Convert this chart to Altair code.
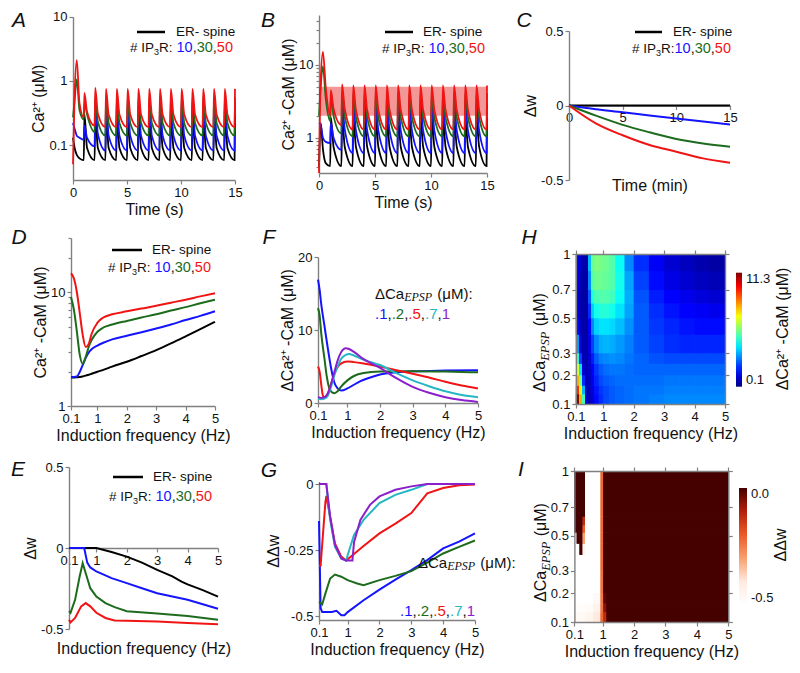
import altair as alt
import pandas as pd

SANS = "Liberation Sans"
SERIF = "Liberation Serif"
W_TOT, H_TOT = 784, 655


def px(v):
    return v - 8


def py(v):
    return v - 8


BLACK = "#000000"
BLUE = "#1414ff"
GREEN = "#1d6b1d"
RED = "#f01414"
CYAN = "#25b7c4"
PURPLE = "#8b1fcc"
INK = "#111111"
AXC = "#808080"
SER_DOM = ["black", "blue", "green", "red", "cyan", "purple"]
SER_RNG = [BLACK, BLUE, GREEN, RED, CYAN, PURPLE]

# ---------------- data: A & B (time in s) ----------------
t_ab = [0, 0.15, 0.35, 0.6,
        1, 1.06, 1.3, 2, 2.06, 2.3, 3, 3.06, 3.3, 4, 4.06, 4.3, 5, 5.06, 5.3,
        6, 6.06, 6.3, 7, 7.06, 7.3, 8, 8.06, 8.3, 9, 9.06, 9.3, 10, 10.06, 10.3,
        11, 11.06, 11.3, 12, 12.06, 12.3, 13, 13.06, 13.3, 14, 14.06, 14.3,
        14.96, 15]

a_black = [0.13, 0.09, 0.07, 0.062,
           0.058, 0.30, 0.09, 0.058, 0.30, 0.09, 0.058, 0.30, 0.09, 0.058, 0.30, 0.09,
           0.058, 0.30, 0.09, 0.058, 0.30, 0.09, 0.058, 0.30, 0.09, 0.058, 0.30, 0.09,
           0.058, 0.30, 0.09, 0.058, 0.30, 0.09, 0.058, 0.30, 0.09, 0.058, 0.30, 0.09,
           0.058, 0.30, 0.09, 0.058, 0.30, 0.09,
           0.058, 0.30]
a_blue = [0.22, 0.18, 0.14, 0.13,
          0.12, 0.20, 0.13, 0.095, 0.46, 0.15,
          0.082, 0.47, 0.14, 0.082, 0.47, 0.14, 0.082, 0.47, 0.14, 0.082, 0.47, 0.14,
          0.082, 0.47, 0.14, 0.082, 0.47, 0.14, 0.082, 0.47, 0.14, 0.082, 0.47, 0.14,
          0.082, 0.47, 0.14, 0.082, 0.47, 0.14, 0.082, 0.47, 0.14, 0.082, 0.47, 0.14,
          0.082, 0.47]
a_green = [0.27, 0.50, 1.05, 0.35,
           0.25, 0.45, 0.30, 0.16, 0.56, 0.23,
           0.14, 0.55, 0.22, 0.14, 0.55, 0.22, 0.14, 0.55, 0.22, 0.14, 0.55, 0.22,
           0.14, 0.55, 0.22, 0.14, 0.55, 0.22, 0.14, 0.55, 0.22, 0.14, 0.55, 0.22,
           0.14, 0.55, 0.22, 0.14, 0.55, 0.22, 0.14, 0.55, 0.22, 0.14, 0.55, 0.22,
           0.14, 0.55]
a_red = [0.05, 0.60, 2.10, 0.45,
         0.27, 0.65, 0.33, 0.20, 0.78, 0.31,
         0.19, 0.75, 0.30, 0.19, 0.75, 0.30, 0.19, 0.75, 0.30, 0.19, 0.75, 0.30,
         0.19, 0.75, 0.30, 0.19, 0.75, 0.30, 0.19, 0.75, 0.30, 0.19, 0.75, 0.30,
         0.19, 0.75, 0.30, 0.19, 0.75, 0.30, 0.19, 0.75, 0.30, 0.19, 0.75, 0.30,
         0.19, 0.75]

b_black = [0.40, 1.6, 0.7, 0.45,
           0.41, 1.9, 0.75, 0.41, 1.9, 0.75, 0.41, 1.9, 0.75, 0.41, 1.9, 0.75,
           0.41, 1.9, 0.75, 0.41, 1.9, 0.75, 0.41, 1.9, 0.75, 0.41, 1.9, 0.75,
           0.41, 1.9, 0.75, 0.41, 1.9, 0.75, 0.41, 1.9, 0.75, 0.41, 1.9, 0.75,
           0.41, 1.9, 0.75, 0.41, 1.9, 0.75,
           0.41, 1.9]
b_blue = [1.6, 1.5, 1.0, 0.88,
          0.85, 1.6, 1.0, 0.68, 3.0, 1.3,
          0.62, 3.0, 1.25, 0.62, 3.0, 1.25, 0.62, 3.0, 1.25, 0.62, 3.0, 1.25,
          0.62, 3.0, 1.25, 0.62, 3.0, 1.25, 0.62, 3.0, 1.25, 0.62, 3.0, 1.25,
          0.62, 3.0, 1.25, 0.62, 3.0, 1.25, 0.62, 3.0, 1.25, 0.62, 3.0, 1.25,
          0.62, 3.0]
b_green = [2.0, 5.0, 9.5, 3.5,
           1.7, 3.8, 2.0, 1.15, 4.2, 1.95,
           1.05, 4.1, 1.9, 1.05, 4.1, 1.9, 1.05, 4.1, 1.9, 1.05, 4.1, 1.9,
           1.05, 4.1, 1.9, 1.05, 4.1, 1.9, 1.05, 4.1, 1.9, 1.05, 4.1, 1.9,
           1.05, 4.1, 1.9, 1.05, 4.1, 1.9, 1.05, 4.1, 1.9, 1.05, 4.1, 1.9,
           1.05, 4.1]
b_red = [0.33, 6.0, 15.0, 5.0,
         2.0, 4.5, 2.5, 1.5, 5.4, 2.5,
         1.3, 5.2, 2.4, 1.3, 5.2, 2.4, 1.3, 5.2, 2.4, 1.3, 5.2, 2.4,
         1.3, 5.2, 2.4, 1.3, 5.2, 2.4, 1.3, 5.2, 2.4, 1.3, 5.2, 2.4,
         1.3, 5.2, 2.4, 1.3, 5.2, 2.4, 1.3, 5.2, 2.4, 1.3, 5.2, 2.4,
         1.3, 5.2]
band_t = [0, 15]
band_lo, band_hi = 2.0, 5.0

# ---------------- C (time in min) ----------------
c_t = [0, 2.5, 5, 7.5, 10, 12.5, 15]
c_black = [0, 0, 0, 0, 0, 0, 0]
c_blue = [0, -0.025, -0.045, -0.067, -0.088, -0.108, -0.127]
c_green = [0, -0.068, -0.13, -0.18, -0.225, -0.255, -0.277]
c_red = [0, -0.12, -0.20, -0.265, -0.31, -0.355, -0.384]

# ---------------- D ----------------
d_f = [0.1, 0.2, 0.3, 0.4, 0.5, 0.6, 0.7, 0.8, 1.0, 1.2, 1.5, 2.0, 2.5, 3.0, 3.5, 4.0, 4.5, 5.0]
d_black = [1.78, 1.78, 1.79, 1.8, 1.82, 1.85, 1.88, 1.92, 2.0, 2.08, 2.22, 2.45, 2.75, 3.1, 3.55, 4.1, 4.75, 5.5]
d_blue = [1.8, 1.8, 1.82, 2.0, 2.3, 2.65, 2.95, 3.15, 3.4, 3.6, 3.85, 4.15, 4.45, 4.8, 5.2, 5.7, 6.2, 6.8]
d_green = [9.1, 7.0, 4.5, 2.8, 2.35, 2.7, 3.3, 3.8, 4.5, 4.9, 5.2, 5.6, 6.0, 6.4, 6.9, 7.4, 8.0, 8.6]
d_red = [14.7, 13.2, 10.0, 6.5, 4.2, 3.3, 3.5, 4.3, 5.4, 6.0, 6.4, 6.8, 7.2, 7.6, 8.1, 8.6, 9.2, 9.8]

# ---------------- E ----------------
e_black_f = [0.1, 1.0, 1.5, 2.0, 2.5, 3.0, 3.5, 3.8, 4.0, 4.5, 5.0]
e_black = [0, 0, -0.025, -0.053, -0.09, -0.135, -0.175, -0.207, -0.225, -0.26, -0.3]
e_blue_f = [0.1, 0.6, 0.7, 0.8, 1.0, 1.5, 2.0, 2.5, 3.0, 3.5, 4.0, 4.5, 5.0]
e_blue = [0, 0, -0.09, -0.12, -0.145, -0.186, -0.217, -0.248, -0.279, -0.3, -0.32, -0.347, -0.375]
e_green_f = [0.1, 0.15, 0.3, 0.45, 0.55, 0.65, 0.8, 1.0, 1.3, 1.6, 2.0, 3.0, 4.0, 5.0]
e_green = [-0.39, -0.4, -0.32, -0.176, -0.094, -0.156, -0.248, -0.3, -0.34, -0.365, -0.39, -0.405, -0.42, -0.443]
e_red_f = [0.1, 0.15, 0.3, 0.5, 0.65, 0.8, 1.0, 1.3, 1.6, 2.0, 3.0, 4.0, 5.0]
e_red = [-0.443, -0.459, -0.432, -0.36, -0.34, -0.36, -0.4, -0.432, -0.447, -0.449, -0.453, -0.463, -0.471]

# ---------------- F ----------------
f_blue_f = [0.1, 0.15, 0.2, 0.3, 0.4, 0.5, 0.6, 0.7, 0.82, 1.0, 1.2, 1.4, 1.7, 2.0, 2.5, 3.0, 4.0, 5.0]
f_blue = [16.9, 15.5, 13.5, 10.5, 7.5, 4.8, 2.8, 2.0, 1.7, 2.0, 2.5, 3.0, 3.5, 3.9, 4.2, 4.35, 4.45, 4.5]
f_green_f = [0.1, 0.15, 0.2, 0.3, 0.37, 0.45, 0.55, 0.6, 0.7, 0.8, 1.0, 1.2, 1.5, 2.0, 3.0, 4.0, 5.0]
f_green = [13.0, 12.0, 9.5, 6.0, 3.6, 2.0, 1.4, 1.35, 1.6, 2.2, 3.1, 3.7, 4.1, 4.3, 4.35, 4.3, 4.2]
f_red_f = [0.1, 0.15, 0.2, 0.25, 0.3, 0.4, 0.5, 0.6, 0.7, 0.8, 1.0, 1.2, 1.5, 2.0, 2.5, 3.0, 3.5, 4.0, 4.5, 5.0]
f_red = [5.0, 4.3, 2.5, 1.0, 0.7, 1.3, 2.6, 4.0, 4.9, 5.4, 5.7, 5.6, 5.4, 5.0, 4.5, 4.0, 3.5, 2.9, 2.4, 2.0]
f_cyan_f = [0.1, 0.2, 0.3, 0.4, 0.5, 0.6, 0.7, 0.8, 0.95, 1.05, 1.2, 1.5, 2.0, 2.5, 3.0, 3.5, 4.0, 4.5, 5.0]
f_cyan = [0.6, 0.5, 0.6, 1.0, 2.2, 3.8, 5.0, 6.0, 6.6, 6.7, 6.5, 5.9, 5.2, 4.1, 3.1, 2.3, 1.6, 1.1, 0.8]
f_purple_f = [0.1, 0.2, 0.3, 0.4, 0.5, 0.6, 0.7, 0.8, 0.95, 1.05, 1.2, 1.5, 2.0, 2.5, 3.0, 3.5, 4.0, 4.5, 5.0]
f_purple = [0.8, 0.7, 0.8, 1.3, 2.6, 4.2, 5.8, 6.9, 7.5, 7.4, 7.0, 6.0, 4.8, 3.4, 2.2, 1.4, 0.8, 0.4, 0.15]

# ---------------- G ----------------
g_blue_f = [0.1, 0.15, 0.2, 0.5, 0.65, 0.8, 0.9, 1.0, 1.5, 2.0, 2.5, 3.0, 3.5, 4.0, 4.5, 5.0]
g_blue = [-0.14, -0.47, -0.485, -0.485, -0.48, -0.497, -0.497, -0.485, -0.44, -0.4, -0.362, -0.326, -0.288, -0.244, -0.218, -0.187]
g_green_f = [0.1, 0.2, 0.3, 0.45, 0.6, 0.8, 1.0, 1.3, 1.5, 2.0, 2.5, 3.0, 3.5, 4.0, 4.5, 5.0]
g_green = [-0.447, -0.456, -0.415, -0.358, -0.343, -0.351, -0.364, -0.377, -0.383, -0.364, -0.348, -0.33, -0.298, -0.263, -0.238, -0.214]
g_red_f = [0.1, 0.15, 0.3, 0.33, 0.45, 0.6, 0.8, 0.95, 1.2, 1.5, 2.0, 2.5, 3.0, 3.5, 4.0, 4.5, 5.0]
g_red = [-0.31, -0.31, -0.07, -0.045, -0.125, -0.225, -0.275, -0.29, -0.265, -0.235, -0.187, -0.15, -0.11, -0.035, -0.015, -0.005, -0.002]
g_cyan_f = [0.1, 0.33, 0.45, 0.6, 0.8, 0.95, 1.05, 1.2, 1.5, 2.0, 2.5, 3.0, 3.5, 5.0]
g_cyan = [0, 0, -0.136, -0.237, -0.282, -0.29, -0.25, -0.193, -0.136, -0.072, -0.041, -0.022, 0, 0]
g_purple_f = [0.1, 0.33, 0.45, 0.6, 0.8, 0.95, 1.15, 1.2, 1.4, 1.7, 2.0, 2.5, 3.0, 3.5, 5.0]
g_purple = [0, 0, -0.123, -0.23, -0.282, -0.29, -0.29, -0.22, -0.136, -0.079, -0.047, -0.022, -0.009, 0, 0]

# ---------------- H heatmap (dCa2+-CaM) ----------------
h_f_edges = [0.1, 0.2, 0.3, 0.4, 0.5, 0.6, 0.7, 0.85, 1.0, 1.2, 1.4, 1.7, 2.0, 2.5, 3.0, 3.5, 4.0, 4.5, 5.0]
h_ca_edges = [0.1, 0.13, 0.16, 0.2, 0.25, 0.3, 0.4, 0.5, 0.6, 0.7, 0.85, 1.0]
h_vals = [
    [11.3, 8.0, 5.0, 1.0, 0.7, 1.0, 1.6, 2.0, 2.3, 2.5, 2.6, 2.7, 2.8, 2.9, 3.0, 3.0, 3.0, 3.0],
    [9.5, 7.2, 3.5, 0.8, 0.7, 1.1, 1.7, 2.1, 2.3, 2.5, 2.6, 2.7, 2.8, 2.8, 2.9, 2.9, 2.9, 2.9],
    [8.0, 5.5, 2.0, 0.7, 0.8, 1.3, 1.9, 2.3, 2.5, 2.6, 2.7, 2.7, 2.7, 2.7, 2.8, 2.8, 2.8, 2.8],
    [6.8, 4.0, 1.0, 0.6, 0.9, 1.5, 2.1, 2.5, 2.7, 2.8, 2.8, 2.7, 2.6, 2.6, 2.6, 2.6, 2.6, 2.6],
    [5.0, 2.2, 0.7, 0.6, 1.0, 1.8, 2.5, 2.9, 3.0, 3.1, 3.0, 2.8, 2.6, 2.4, 2.3, 2.3, 2.3, 2.3],
    [3.3, 1.1, 0.6, 0.5, 1.2, 2.2, 3.0, 3.4, 3.5, 3.4, 3.2, 2.9, 2.5, 2.2, 2.0, 1.9, 1.9, 1.9],
    [1.6, 0.8, 0.5, 0.5, 1.5, 3.0, 3.8, 4.0, 4.0, 3.9, 3.6, 3.1, 2.5, 2.1, 1.9, 1.7, 1.6, 1.6],
    [1.2, 0.6, 0.5, 0.5, 2.0, 3.8, 4.5, 4.7, 4.7, 4.5, 4.0, 3.3, 2.5, 2.0, 1.7, 1.5, 1.4, 1.3],
    [1.1, 0.6, 0.5, 0.5, 2.5, 4.6, 5.1, 5.2, 5.2, 5.0, 4.4, 3.4, 2.4, 1.8, 1.5, 1.3, 1.1, 1.0],
    [1.2, 0.8, 0.5, 0.5, 3.0, 5.2, 5.5, 5.5, 5.4, 5.2, 4.5, 3.3, 2.2, 1.6, 1.2, 1.0, 0.8, 0.7],
    [1.3, 1.0, 0.6, 0.5, 3.5, 5.4, 5.7, 5.6, 5.5, 5.2, 4.4, 3.0, 2.0, 1.4, 1.0, 0.8, 0.6, 0.5],
]

# ---------------- I heatmap (ddw) ----------------
i_f_edges = [0.1, 0.17, 0.26, 0.36, 0.44, 0.7, 0.93, 1.02, 1.12, 5.0]
i_ca_edges = [0.1, 0.13, 0.16, 0.2, 0.3, 0.385, 0.45, 0.52, 0.57, 0.63, 1.0]
i_vals = [
    [-0.47, -0.47, -0.47, -0.47, -0.45, -0.40, -0.22, -0.12, 0.0],
    [-0.49, -0.49, -0.49, -0.49, -0.48, -0.44, -0.24, -0.06, 0.0],
    [-0.50, -0.50, -0.50, -0.50, -0.50, -0.47, -0.24, -0.02, 0.0],
    [-0.50, -0.50, -0.50, -0.50, -0.50, -0.50, -0.23, 0.0, 0.0],
    [-0.50, -0.50, -0.50, -0.50, -0.50, -0.50, -0.22, 0.0, 0.0],
    [-0.50, -0.50, 0.0, -0.45, -0.50, -0.50, -0.22, 0.0, 0.0],
    [-0.50, 0.0, 0.0, -0.30, -0.50, -0.50, -0.22, 0.0, 0.0],
    [0.0, 0.0, 0.0, -0.20, -0.50, -0.50, -0.22, 0.0, 0.0],
    [0.0, 0.0, 0.0, -0.12, -0.50, -0.50, -0.22, 0.0, 0.0],
    [0.0, 0.0, 0.0, 0.0, -0.50, -0.50, -0.22, 0.0, 0.0],
]

FREQ_TICKS = [0.1, 1, 2, 3, 4, 5]
CA_TICKS = [0.1, 0.2, 0.3, 0.5, 0.7, 1]

# ---------------- helpers ----------------
CW = {'0': 556, '1': 556, '2': 556, '3': 556, '4': 556, '5': 556, '6': 556, '7': 556, '8': 556,
      '9': 556, '.': 278, ',': 278, '#': 556, ' ': 278, 'I': 278, 'P': 667, 'R': 722, ':': 278,
      'E': 667, '-': 333, 's': 500, 'p': 556, 'i': 222, 'n': 556, 'e': 556, 'Δ': 668, 'C': 722,
      'a': 556, 'μ': 577, 'M': 833, '(': 333, ')': 333, 'w': 722, 'S': 667}
SWI = {'E': 611, 'P': 611, 'S': 500}
ONE = pd.DataFrame({"k": [0]})


def text_w(s, size, serif=False):
    tb = SWI if serif else CW
    return sum(tb.get(c, 556) for c in s) * size / 1000.0


def rich(x0, y0, segs, angle=0):
    out = []
    pos = 0.0
    for s, color, size, serif, shift in segs:
        lead = len(s) - len(s.lstrip(" "))
        pos += lead * 278 * size / 1000.0
        body = s.strip(" ")
        if angle == 0:
            x, y = x0 + pos, y0 + shift
        else:
            x, y = x0 + shift, y0 - pos
        out.append(alt.Chart(ONE).mark_text(
            text=body, font=SERIF if serif else SANS, fontStyle="italic" if serif else "normal",
            fontSize=size, color=color, align="left", baseline="middle", angle=angle
        ).encode(x=alt.value(px(x)), y=alt.value(py(y))))
        pos += text_w(s.lstrip(" "), size, serif) + (1.0 if serif else 0.0)
    return out


def label(txt, x, y, size=16, angle=0, italic=False, align="center"):
    return alt.Chart(ONE).mark_text(
        text=txt, font=SANS, fontStyle="italic" if italic else "normal", fontSize=size,
        color=INK, align=align, baseline="middle", angle=angle
    ).encode(x=alt.value(px(x)), y=alt.value(py(y)))


def sc(dom, r0, r1, typ="linear"):
    return alt.Scale(type=typ, domain=dom, range=[r0, r1], nice=False, zero=False)


def axis(orient, offset, values, title=None, **kw):
    d = dict(orient=orient, offset=offset, values=values, tickSize=4, grid=False,
             domainColor=AXC, tickColor=AXC, domainWidth=1.4, tickWidth=1.2,
             labelFont=SANS, labelFontSize=13, labelColor=INK, labelPadding=2,
             labelFlush=False, labelOverlap=False, labelExpr="toString(datum.value)",
             titleFont=SANS, titleFontSize=16, titleFontWeight="normal", titleColor=INK,
             titlePadding=2, title=title)
    d.update(kw)
    return alt.Axis(**d)


def xax(ypos, values, title=None, **kw):
    return axis("bottom", -(H_TOT - py(ypos)), values, title, **kw)


def yax(xpos, values, title=None, **kw):
    return axis("left", -px(xpos), values, title, **kw)


def series_df(items):
    rows = []
    for name, xs, ys in items:
        for a, b in zip(xs, ys):
            rows.append({"x": a, "y": b, "s": name})
    return pd.DataFrame(rows)


def line_layer(df, xs, ys, xa, ya, interp="monotone", sw=2.0):
    return alt.Chart(df).mark_line(interpolate=interp, strokeWidth=sw).encode(
        x=alt.X("x:Q", scale=xs, axis=xa),
        y=alt.Y("y:Q", scale=ys, axis=ya),
        color=alt.Color("s:N", scale=alt.Scale(domain=SER_DOM, range=SER_RNG), legend=None),
    )


def minor_layer(df, xs, ys, xpos, values):
    return alt.Chart(df).mark_point(opacity=0).encode(
        x=alt.X("x:Q", scale=xs, axis=None),
        y=alt.Y("y:Q", scale=ys, axis=yax(xpos, values, None, labels=False, domain=False, tickSize=3)),
    )


def heat_df(xe, ye, mat):
    rows = []
    for i, row in enumerate(mat):
        for j, v in enumerate(row):
            rows.append({"x0": xe[j], "x1": xe[j + 1], "y0": ye[i], "y1": ye[i + 1], "v": v})
    return pd.DataFrame(rows)


def heat_layer(df, xs, ys, dom, rng, xa=None, ya=None, legend=None):
    return alt.Chart(df).mark_rect().encode(
        x=alt.X("x0:Q", scale=xs, axis=xa), x2="x1:Q",
        y=alt.Y("y0:Q", scale=ys, axis=ya), y2="y1:Q",
        color=alt.Color("v:Q", scale=alt.Scale(domain=dom, range=rng, clamp=True, interpolate="rgb"),
                        legend=legend),
    )


def ip3r_legend(lx0, lx1, y1, tx, x2, y2, space=True):
    out = [alt.Chart(ONE).mark_rule(color=BLACK, strokeWidth=2.5).encode(
        x=alt.value(px(lx0)), x2=alt.value(px(lx1)), y=alt.value(py(y1)))]
    out += rich(tx, y1, [("ER- spine", INK, 13.5, False, 0)])
    out += rich(x2, y2, [("# IP", INK, 13.5, False, 0), ("3", INK, 9, False, 4),
                         ("R:", INK, 13.5, False, 0),
                         ((" " if space else "") + "10", BLUE, 14.5, False, 0), (",", INK, 14.5, False, 0),
                         ("30", GREEN, 14.5, False, 0), (",", INK, 14.5, False, 0),
                         ("50", RED, 14.5, False, 0)])
    return out


def epsp_legend(x1, y1, x2, y2):
    out = rich(x1, y1, [("ΔCa", INK, 15, False, 0), ("EPSP", INK, 12, True, 3),
                        (" (μM):", INK, 15, False, 0)])
    out += rich(x2, y2, [(".1", BLUE, 15, False, 0), (",", INK, 15, False, 0),
                         (".2", GREEN, 15, False, 0), (",", INK, 15, False, 0),
                         (".5", RED, 15, False, 0), (",", INK, 15, False, 0),
                         (".7", CYAN, 15, False, 0), (",", INK, 15, False, 0),
                         ("1", PURPLE, 15, False, 0)])
    return out


L = []

# ---------------- Panel A ----------------
dfA = series_df([("black", t_ab, a_black), ("blue", t_ab, a_blue),
                 ("green", t_ab, a_green), ("red", t_ab, a_red)])
xsA = sc([0, 15], px(73), px(235))
ysA = sc([0.0285, 10], py(180), py(16.7), "log")
L.append(line_layer(dfA, xsA, ysA, xax(180, [0, 5, 10, 15], "Time (s)"),
                    yax(73, [0.1, 1, 10], "Ca²⁺ (μM)"), sw=1.8))

# ---------------- Panel B ----------------
dfB = series_df([("black", t_ab, b_black), ("blue", t_ab, b_blue),
                 ("green", t_ab, b_green), ("red", t_ab, b_red)])
xsB = sc([0, 15], px(319), px(487))
ysB = sc([0.33, 48], py(173), py(15), "log")
dfBand = pd.DataFrame({"x0": [band_t[0]], "x1": [band_t[1]], "y0": [band_lo], "y1": [band_hi]})
L.append(alt.Chart(dfBand).mark_rect(color="#e83030", opacity=0.5).encode(
    x=alt.X("x0:Q", scale=xsB, axis=None), x2="x1:Q",
    y=alt.Y("y0:Q", scale=ysB, axis=None), y2="y1:Q"))
L.append(line_layer(dfB, xsB, ysB, xax(173, [0, 5, 10, 15], "Time (s)"),
                    yax(319, [1, 10], "Ca²⁺ -CaM (μM)"), sw=1.8))
L.append(minor_layer(dfB, xsB, ysB, 319, [0.4, 0.5, 0.6, 0.7, 0.8, 0.9, 2, 3, 4, 5, 6, 7, 8, 9, 20, 30, 40]))

# ---------------- Panel C ----------------
dfC = series_df([("black", c_t, c_black), ("blue", c_t, c_blue),
                 ("green", c_t, c_green), ("red", c_t, c_red)])
xsC = sc([0, 15], px(569), px(730))
ysC = sc([-0.5, 0.5], py(180), py(31))
L.append(line_layer(dfC, xsC, ysC, xax(105.5, [0, 5, 10, 15], "Time (min)", titleY=72),
                    yax(569, [-0.5, 0, 0.5], "Δw")))

# ---------------- Panel D ----------------
dfD = series_df([("black", d_f, d_black), ("blue", d_f, d_blue),
                 ("green", d_f, d_green), ("red", d_f, d_red)])
xsD = sc([0.1, 5], px(71), px(215))
ysD = sc([1, 30], py(406), py(238), "log")
L.append(line_layer(dfD, xsD, ysD, xax(406, FREQ_TICKS, "Induction frequency (Hz)"),
                    yax(71, [1, 10], "Ca²⁺ -CaM (μM)")))
L.append(minor_layer(dfD, xsD, ysD, 71, [2, 3, 4, 5, 6, 7, 8, 9, 20, 30]))

# ---------------- Panel E ----------------
dfE = series_df([("black", e_black_f, e_black), ("blue", e_blue_f, e_blue),
                 ("green", e_green_f, e_green), ("red", e_red_f, e_red)])
xsE = sc([0.1, 5], px(69), px(218))
ysE = sc([-0.5, 0.5], py(629), py(467))
L.append(line_layer(dfE, xsE, ysE, xax(548, FREQ_TICKS, "Induction frequency (Hz)", titleY=92),
                    yax(69, [-0.5, 0, 0.5], "Δw"), interp="linear"))

# ---------------- Panel F ----------------
dfF = series_df([("blue", f_blue_f, f_blue), ("green", f_green_f, f_green), ("red", f_red_f, f_red),
                 ("cyan", f_cyan_f, f_cyan), ("purple", f_purple_f, f_purple)])
xsF = sc([0.1, 5], px(318), px(478))
ysF = sc([0, 20], py(403), py(257))
L.append(line_layer(dfF, xsF, ysF, xax(403, FREQ_TICKS, "Induction frequency (Hz)"),
                    yax(318, [0, 10, 20], "ΔCa²⁺ -CaM (μM)")))

# ---------------- Panel G ----------------
dfG = series_df([("blue", g_blue_f, g_blue), ("green", g_green_f, g_green), ("red", g_red_f, g_red),
                 ("cyan", g_cyan_f, g_cyan), ("purple", g_purple_f, g_purple)])
xsG = sc([0.1, 5], px(319), px(475))
ysG = sc([-0.515, 0.0095], py(620), py(481.5))
L.append(line_layer(dfG, xsG, ysG, xax(620, FREQ_TICKS, "Induction frequency (Hz)"),
                    yax(319, [-0.5, -0.25, 0], "ΔΔw"), interp="linear"))

# ---------------- Panel H ----------------
dfH = heat_df(h_f_edges, h_ca_edges, h_vals)
xsH = sc([0.1, 5], px(575.9), px(725))
ysH = sc([0.1, 1], py(404), py(254), "sqrt")
JET_DOM = [0.1, 1.5, 2.9, 4.3, 5.7, 7.1, 8.5, 9.9, 11.3]
JET_RNG = ["#00007f", "#0000ff", "#007fff", "#00ffff", "#7fff7f", "#ffff00", "#ff7f00", "#ff0000", "#7f0000"]
legH = alt.Legend(type="gradient", orient="none", legendX=px(736), legendY=py(272.7), direction="vertical",
                  gradientLength=114, gradientThickness=6, values=[0.1, 11.3], format=".1f",
                  labelFont=SANS, labelFontSize=13, labelColor=INK, labelOffset=4, title=None,
                  gradientStrokeWidth=0)
L.append(heat_layer(dfH, xsH, ysH, JET_DOM, JET_RNG,
                    xa=xax(404, FREQ_TICKS, "Induction frequency (Hz)", zindex=1),
                    ya=yax(575.9, CA_TICKS, None, zindex=1), legend=legH))
# extra identical passes hide anti-aliasing seams between cells
L.append(heat_layer(dfH, xsH, ysH, JET_DOM, JET_RNG))
L.append(heat_layer(dfH, xsH, ysH, JET_DOM, JET_RNG))
L.append(alt.Chart(dfH).mark_point(opacity=0).encode(
    x=alt.X("x0:Q", scale=xsH, axis=axis("top", -py(254), FREQ_TICKS, None, labels=False, zindex=1)),
    y=alt.Y("y0:Q", scale=ysH, axis=axis("right", -(W_TOT - px(725)), CA_TICKS, None, labels=False, zindex=1)),
))

# ---------------- Panel I ----------------
dfI = heat_df(i_f_edges, i_ca_edges, i_vals)
xsI = sc([0.1, 5], px(574.4), px(728.3))
ysI = sc([0.1, 1], py(622), py(471), "sqrt")
RED_DOM = [-0.5, -0.4, -0.3, -0.2, -0.1, 0.0]
RED_RNG = ["#ffffff", "#feeadf", "#f8a070", "#ec5a28", "#b3200a", "#450000"]
legI = alt.Legend(type="gradient", orient="none", legendX=px(739), legendY=py(488), direction="vertical",
                  gradientLength=117, gradientThickness=8, values=[-0.5, 0.0], format=".1f",
                  labelExpr="replace(datum.label, '\u2212', '-')",
                  labelFont=SANS, labelFontSize=13, labelColor=INK, labelOffset=4, title=None,
                  gradientStrokeWidth=0)
L.append(heat_layer(dfI, xsI, ysI, RED_DOM, RED_RNG,
                    xa=xax(622, FREQ_TICKS, "Induction frequency (Hz)", zindex=1),
                    ya=yax(574.4, CA_TICKS, None, zindex=1), legend=legI))
L.append(heat_layer(dfI, xsI, ysI, RED_DOM, RED_RNG))
L.append(heat_layer(dfI, xsI, ysI, RED_DOM, RED_RNG))
L.append(alt.Chart(dfI).mark_point(opacity=0).encode(
    x=alt.X("x0:Q", scale=xsI, axis=axis("top", -py(471), FREQ_TICKS, None, labels=False, zindex=1)),
    y=alt.Y("y0:Q", scale=ysI, axis=axis("right", -(W_TOT - px(728.3)), CA_TICKS, None, labels=False, zindex=1)),
))

# ---------------- annotations ----------------
L += ip3r_legend(137, 165, 32, 176, 130, 48)
L += ip3r_legend(385, 413, 32, 423, 382, 49)
L += ip3r_legend(635, 662, 32, 673, 632, 49, space=False)
L += ip3r_legend(112, 142, 250, 152, 108, 268)
L += ip3r_legend(113, 143, 477, 153, 109, 497)
L += epsp_legend(375, 294, 375, 314)
L += epsp_legend(418, 563, 400, 611)

# heatmap y titles (rotated rich text)
L += rich(540, 392, [("ΔCa", INK, 16, False, 0), ("EPSP", INK, 12.5, True, 4.5),
                     (" (μM)", INK, 16, False, 0)], angle=270)
L += rich(541, 602, [("ΔCa", INK, 16, False, 0), ("EPSP", INK, 12.5, True, 4.5),
                     (" (μM)", INK, 16, False, 0)], angle=270)
L.append(label("ΔCa²⁺ -CaM (μM)", 783, 329, size=16, angle=270))
L.append(label("ΔΔw", 781, 545, size=16, angle=270))

# panel letters
for ch, lx, ly in [("A", 19, 21), ("B", 268, 21), ("C", 524, 21), ("D", 19, 238), ("F", 269, 238),
                   ("H", 529, 238), ("E", 18, 470), ("G", 269, 471), ("I", 521, 470)]:
    L.append(label(ch, lx, ly, size=21, italic=True))

chart = alt.layer(*L).resolve_scale(
    x="independent", y="independent", color="independent"
).resolve_axis(x="independent", y="independent").resolve_legend(
    color="independent"
).properties(
    width=W_TOT, height=H_TOT, padding=0, background="white",
    autosize=alt.AutoSizeParams(type="none")
).configure_view(stroke=None)

chart.save("out.html", embed_options={"renderer": "svg", "actions": False})
